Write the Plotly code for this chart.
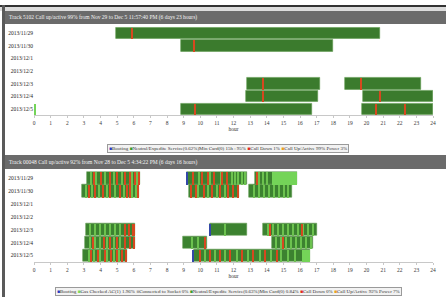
import plotly.graph_objects as go

W, H = 446, 297

days = ["2013/11/29", "2013/11/30", "2013/12/1", "2013/12/2", "2013/12/3", "2013/12/4", "2013/12/5"]
hours = list(range(0, 25))

top_title = "Track 5102 Call up/active 99% from Nov 29 to Dec 5 11:57:40 PM (6 days 23 hours)"
bot_title = "Track 00048 Call up/active 92% from Nov 28 to Dec 5 4:34:22 PM (6 days 16 hours)"

# ---- top panel (hours of day) ----
top_bar_day = [0, 1, 4, 4, 5, 5, 6, 6]
top_bar_start = [4.95, 8.86, 12.8, 18.7, 12.75, 19.8, 8.86, 19.7]
top_bar_end = [20.8, 18.0, 17.2, 23.3, 17.1, 24.0, 16.7, 24.0]
top_red_day = [0, 1, 4, 4, 5, 5, 6, 6, 6]
top_red_at = [5.9, 9.64, 13.8, 19.7, 13.8, 20.8, 9.7, 20.6, 22.3]
top_light_day = [6]
top_light_start = [0.0]
top_light_end = [0.07]

# ---- bottom panel ----
bot_bar_day = [0, 0, 0, 1, 1, 1, 4, 4, 4, 5, 5, 5, 6, 6]
bot_bar_start = [3.2, 9.2, 13.3, 2.9, 9.3, 12.95, 3.1, 10.6, 13.8, 3.07, 8.97, 14.3, 2.97, 9.6]
bot_bar_end = [6.4, 12.8, 15.8, 6.3, 12.35, 15.5, 6.1, 12.8, 17.0, 6.1, 10.4, 16.8, 5.6, 16.6]
bot_block_day = [0, 6]
bot_block_start = [14.3, 16.15]
bot_block_end = [15.8, 16.6]
bot_light_day = ([0] * 7 + [0] * 8 + [0] * 3 + [1] * 8 + [1] * 4 + [1] * 8 + [4] * 7 + [4] * 1
                 + [4] * 10 + [5] * 6 + [5] * 2 + [5] * 8 + [6] * 6 + [6] * 10)
bot_light_at = [3.45, 3.75, 4.3, 4.85, 5.3, 5.9, 6.2,
                9.95, 10.6, 11.25, 11.9, 12.1, 12.3, 12.5, 12.7,
                13.55, 13.8, 14.05,
                3.15, 3.5, 3.9, 4.4, 4.9, 5.4, 5.9, 6.15,
                9.9, 10.5, 11.0, 11.5,
                13.25, 13.55, 13.85, 14.15, 14.45, 14.75, 15.05, 15.3,
                3.4, 3.7, 4.0, 4.3, 4.6, 4.9, 5.2,
                11.5,
                14.1, 14.4, 14.7, 15.0, 15.3, 15.6, 15.9, 16.2, 16.5, 16.8,
                3.4, 3.7, 4.0, 4.4, 4.8, 5.2,
                9.5, 9.9,
                14.6, 14.9, 15.2, 15.5, 15.8, 16.1, 16.4, 16.65,
                3.3, 3.6, 4.0, 4.4, 4.8, 5.1,
                10.3, 10.9, 11.5, 12.2, 12.9, 13.6, 14.3, 14.9, 15.3, 15.7]
bot_red_day = ([0] * 8 + [0] * 6 + [0] * 1 + [1] * 8 + [1] * 8 + [4] * 4 + [4] * 2
               + [5] * 7 + [5] * 1 + [5] * 1 + [6] * 7 + [6] * 8)
bot_red_at = [3.6, 4.05, 4.55, 5.0, 5.5, 5.75, 6.05, 6.33,
              9.55, 10.1, 10.45, 10.85, 11.3, 11.6,
              13.4,
              3.3, 3.7, 4.15, 4.6, 5.15, 5.6, 5.8, 6.25,
              9.45, 9.75, 10.25, 10.7, 11.2, 11.7, 11.95, 12.28,
              5.45, 5.7, 5.95, 6.04,
              14.2, 16.15,
              3.55, 4.2, 4.6, 5.0, 5.5, 5.8, 6.04,
              10.32,
              15.0,
              3.45, 3.85, 4.25, 4.65, 5.0, 5.3, 5.53,
              10.0, 10.6, 11.2, 11.8, 12.5, 13.2, 13.9, 14.6]
bot_blue_day = [0, 4, 6]
bot_blue_at = [9.2, 10.6, 9.6]

top_legend = ("<span style='color:#2a3cc0'>■</span>Booting "
              "<span style='color:#3a9a2a'>■</span>Neutral/Expedite Service(0.62%)Min Card(0) 15h : 95% "
              "<span style='color:#e02a1a'>■</span>Call Down 1% "
              "<span style='color:#e8a020'>■</span>Call Up/Active 99% Power 3%")
bot_legend = ("<span style='color:#2a3cc0'>■</span>Booting "
              "<span style='color:#7ad85a'>■</span>Gas Checked AC(1) 1.96% "
              "<span style='color:#aaaaaa'>■</span>Connected to Socket 0% "
              "<span style='color:#3a9a2a'>■</span>Neutral/Expedite Service(0.63%)Min Card(0) 0.84% "
              "<span style='color:#e02a1a'>■</span>Call Down 0% "
              "<span style='color:#e8a020'>■</span>Call Up/Active 92% Power 7%")

DARK = "#3b7b2d"
DARK2 = "#3c8230"
LIGHT = "#6cc24f"
BLOCK = "#74d458"
RED = "#d6481f"
BLUE = "#3348a8"

fig = go.Figure()


def bars(d, s, e, color, xa, ya, width, line=None):
    fig.add_trace(go.Bar(
        orientation="h", y=[days[i] for i in d], base=s,
        x=[b - a for a, b in zip(s, e)], width=width,
        marker=dict(color=color, line=dict(width=0.6 if line else 0, color=line or color)),
        xaxis=xa, yaxis=ya, showlegend=False, hoverinfo="skip"))


def stripes(d, at, w, color, xa, ya, width):
    bars(d, [a - w / 2 for a in at], [a + w / 2 for a in at], color, xa, ya, width)


# top
bars(top_bar_day, top_bar_start, top_bar_end, DARK, "x", "y", 0.9, line="#5e9a4e")
bars(top_light_day, top_light_start, top_light_end, BLOCK, "x", "y", 0.9)
stripes(top_red_day, top_red_at, 0.07, RED, "x", "y", 0.9)

# bottom
bars(bot_bar_day, bot_bar_start, bot_bar_end, DARK2, "x2", "y2", 0.95, line="#5e9a4e")
bars(bot_block_day, bot_block_start, bot_block_end, BLOCK, "x2", "y2", 0.95)
stripes(bot_light_day, bot_light_at, 0.09, LIGHT, "x2", "y2", 0.95)
stripes(bot_red_day, bot_red_at, 0.07, RED, "x2", "y2", 0.95)
stripes(bot_blue_day, bot_blue_at, 0.08, BLUE, "x2", "y2", 0.95)

x0, x1 = 34 / W, 433 / W


def py(px):
    return 1 - px / H


xa = dict(range=[0, 24], tickvals=hours, ticktext=[str(h) for h in hours],
          showline=True, linecolor="#c8c8c8", linewidth=1, ticks="outside", ticklen=2,
          tickcolor="#c8c8c8", showgrid=False, zeroline=False, automargin=False,
          tickfont=dict(size=5.5, color="#3a3a3a", family="Liberation Serif"),
          title=dict(text="hour", font=dict(size=5.5, color="#333", family="Liberation Serif"), standoff=1),
          domain=[x0, x1], fixedrange=True)
ya = dict(categoryorder="array", categoryarray=days, range=[6.5, -0.5], showgrid=False,
          zeroline=False, showline=False, ticks="", automargin=False,
          tickfont=dict(size=5.5, color="#222", family="Liberation Serif"), fixedrange=True)

fig.update_layout(
    width=W, height=H, margin=dict(l=0, r=0, t=0, b=0, autoexpand=False),
    paper_bgcolor="white", plot_bgcolor="white", barmode="overlay", bargap=0,
    xaxis=dict(xa, anchor="y"),
    yaxis=dict(ya, domain=[py(115.3), py(26.7)], anchor="x"),
    xaxis2=dict(xa, anchor="y2"),
    yaxis2=dict(ya, domain=[py(262), py(171.5)], anchor="x2"),
)

shapes = [
    dict(type="rect", xref="paper", yref="paper", x0=0, x1=1, y0=py(11), y1=py(7),
         fillcolor="#dcdcdc", line_width=0, layer="below"),
    dict(type="rect", xref="paper", yref="paper", x0=0, x1=1, y0=py(7), y1=py(5),
         fillcolor="#333", line_width=0),
    dict(type="rect", xref="paper", yref="paper", x0=2 / W, x1=5 / W, y0=0, y1=py(5),
         fillcolor="#5a5a5a", line_width=0),
    dict(type="rect", xref="paper", yref="paper", x0=5 / W, x1=1, y0=py(24), y1=py(11),
         fillcolor="#6b6b6b", line_width=0),
    dict(type="rect", xref="paper", yref="paper", x0=5 / W, x1=1, y0=py(169), y1=py(155),
         fillcolor="#6b6b6b", line_width=0),
]
fig.update_layout(shapes=shapes)

ann = [
    dict(text=top_title, x=7 / W, y=py(17.5), xanchor="left", yanchor="middle",
         font=dict(size=5.5, color="#f4f4f4", family="Liberation Sans Narrow")),
    dict(text=bot_title, x=7 / W, y=py(162.5), xanchor="left", yanchor="middle",
         font=dict(size=5.5, color="#f4f4f4", family="Liberation Sans Narrow")),
    dict(text=top_legend, x=227.5 / W, y=py(148), xanchor="center", yanchor="middle",
         bordercolor="#9a9a9a", borderwidth=1, borderpad=1, bgcolor="#f2f2f2",
         font=dict(size=5, color="#333", family="Liberation Sans Narrow")),
    dict(text=bot_legend, x=228 / W, y=py(291), xanchor="center", yanchor="middle",
         bordercolor="#9a9a9a", borderwidth=1, borderpad=1, bgcolor="#f2f2f2",
         font=dict(size=5, color="#333", family="Liberation Sans Narrow")),
]
for a in ann:
    a.update(xref="paper", yref="paper", showarrow=False)
fig.update_layout(annotations=ann)

fig.write_html("out.html", config={"displayModeBar": False},
               post_script="document.body.style.margin='0';document.body.style.overflow='hidden';")
